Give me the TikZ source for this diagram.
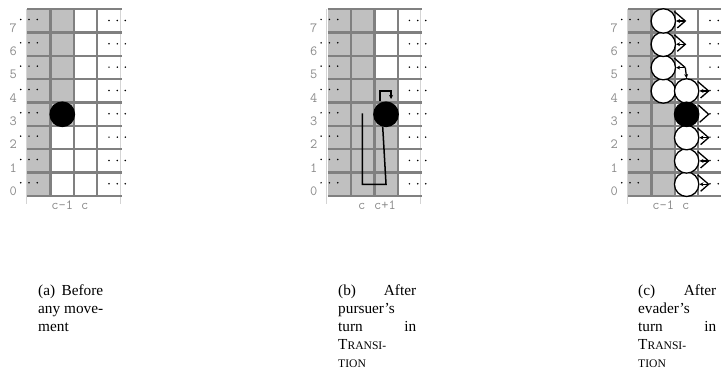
\documentclass[tikz,border=0pt]{standalone}
\usepackage{fontspec}
\setmainfont{Liberation Serif}
\usetikzlibrary{arrows.meta,calc}
\definecolor{cellgray}{HTML}{C0C0C0}
\definecolor{gridgray}{HTML}{808080}
\definecolor{thingray}{HTML}{D4D4D4}
\definecolor{labelgray}{HTML}{8A8A8A}
\newcommand\mysc[1]{{\fontsize{11.6}{18}\selectfont #1}}
\def\S{23.33}
\def\GT{9.3}
\newcommand\gcell[2]{\fill[cellgray] ({#1*\S},{\GT+(7-#2)*\S}) rectangle ({(#1+1)*\S},{\GT+(8-#2)*\S});}
\newcommand\gcol[1]{\fill[cellgray] ({#1*\S},\GT) rectangle ({(#1+1)*\S},{\GT+8*\S});}
\newcommand\gridbase[1]{%
  \draw[thinl] (-1.3,\GT) -- (-1.3,{\GT+8*\S+8});
  \draw[thinl] ({4*\S-0.8},\GT) -- ({4*\S-0.8},{\GT+8*\S+8});
  \foreach \k in {0,...,8} {\draw[gridl] (0,{\GT+\k*\S}) -- ({4*\S+1},{\GT+\k*\S});}
  \foreach \k in {1,2,3} {\draw[gridl] ({\k*\S},\GT) -- ({\k*\S},{\GT+8*\S});}
  \foreach \r in {0,...,7}{%
    \node[rowlab] (#1-row\r) at (-14,{\GT+(8-\r)*\S-0.5}) {\r};
    \foreach \dx in {-6.6,1.7,10}{\fill ({\dx},{\GT+(7.5-\r)*\S-1.5}) circle (0.85);}
    \foreach \dx in {81.7,90,98}{\fill ({\dx},{\GT+(7.5-\r)*\S-0.5}) circle (0.85);}
  }%
}
% zigzag helper: #1 node name
\newcommand\zig[1]{%
  \coordinate (#1-u) at ($(#1)+(11,-9.5)$);
  \coordinate (#1-v) at ($(#1)+(22,0)$);
  \coordinate (#1-w) at ($(#1)+(14,7)$);
  \draw[zz] (#1-u) -- (#1-v) -- (#1-w);
  \draw[zz,arrowed] (#1-v) -- (#1.east);
}
\begin{document}
\begin{tikzpicture}[x=1pt,y=-1pt,
  thinl/.style={draw=thingray,line width=0.6pt},
  gridl/.style={draw=gridgray,line width=2.3pt},
  rowlab/.style={anchor=base,inner sep=0pt,text=labelgray,font=\ttfamily\fontsize{14}{14}\selectfont},
  collab/.style={anchor=base,inner sep=0pt,text=labelgray,font=\ttfamily\fontsize{14}{14}\selectfont},
  blackdisc/.style={circle,draw=black,fill=black,line width=1.3pt,minimum size=24.4pt,inner sep=0pt},
  whitedisc/.style={circle,draw=black,fill=white,line width=1.3pt,minimum size=24.4pt,inner sep=0pt},
  trail/.style={draw=black,line width=1.5pt,line join=miter},
  zz/.style={draw=black,line width=1.3pt},
  arrowed/.style={-{Stealth[length=4pt,width=4pt]}},
  captext/.style={anchor=north west,inner sep=0pt,align=left,font=\fontsize{15.3}{18}\selectfont}]
\useasboundingbox (0,0) rectangle (721,376);

% ---------- panel (a)
\begin{scope}[xshift=27.3pt]
  \gcol{0}
  \foreach \r in {3,...,7}{\gcell{1}{\r}}
  \gridbase{a}
  \node[blackdisc] (a-e) at ({1.5*\S},{\GT+4.5*\S}) {};
  \node[collab] (a-c1) at ({1.5*\S},{\GT+8*\S+14}) {c-1};
  \node[collab] (a-c2) at ({2.5*\S-1},{\GT+8*\S+14}) {c};
\end{scope}

% ---------- panel (b)
\begin{scope}[xshift=327.7pt]
  \gcol{0}
  \gcol{1}
  \foreach \r in {0,...,4}{\gcell{2}{\r}}
  \gridbase{b}
  \node[blackdisc] (b-e) at ({2.5*\S},{\GT+4.5*\S}) {};
  \coordinate (b-s) at ({1.5*\S-0.3},{\GT+4.5*\S-1});
  \coordinate (b-bl) at ({1.5*\S-0.3},{\GT+7.5*\S});
  \coordinate (b-br) at ({2.5*\S},{\GT+7.5*\S});
  \draw[trail] (b-s) -- (b-bl) -- (b-br) -- (b-e.-105);
  \coordinate (b-lt) at ({2.5*\S-6},{\GT+3.5*\S});
  \coordinate (b-rt) at ({2.5*\S+5},{\GT+3.5*\S});
  \coordinate (b-le) at ({2.5*\S+5},{\GT+3.5*\S+8});
  \draw[trail,arrowed] (b-e.north -| b-lt) -- (b-lt) -- (b-rt) -- (b-le);
  \node[collab] (b-c1) at ({1.5*\S-1},{\GT+8*\S+14}) {c};
  \node[collab] (b-c2) at ({2.5*\S-1},{\GT+8*\S+14}) {c+1};
\end{scope}

% ---------- panel (c)
\begin{scope}[xshift=628.3pt]
  \gcol{0}
  \gcol{1}
  \gridbase{c}
  \foreach \r in {4,...,7}{\node[whitedisc] (c-l\r) at ({1.5*\S},{\GT+(7.5-\r)*\S}) {};}
  \foreach \r in {0,1,2,4}{\node[whitedisc] (c-m\r) at ({2.5*\S},{\GT+(7.5-\r)*\S}) {};}
  \node[blackdisc] (c-e) at ({2.5*\S},{\GT+4.5*\S}) {};
  \zig{c-l7}
  \zig{c-l6}
  \zig{c-m4}
  \zig{c-m2}
  \zig{c-m1}
  \zig{c-m0}
  % row 5 of column c-1
  \coordinate (c-l5-u) at ($(c-l5)+(11,-9.5)$);
  \coordinate (c-l5-v) at ($(c-l5)+(22,0)$);
  \draw[zz] (c-l5-u) -- (c-l5-v);
  \draw[zz,arrowed] (c-l5-v) -- (c-l5.east);
  \draw[zz,arrowed] (c-l5-v) -- (c-m4.north);
  % evader
  \coordinate (c-e-u) at ($(c-e)+(12,-9)$);
  \coordinate (c-e-v) at ($(c-e)+(22,0)$);
  \coordinate (c-e-w) at ($(c-e)+(13,8)$);
  \draw[zz] (c-e-u) -- (c-e-v) -- (c-e-w);
  \node[collab] (c-c1) at ({1.5*\S},{\GT+8*\S+14}) {c-1};
  \node[collab] (c-c2) at ({2.5*\S-1},{\GT+8*\S+14}) {c};
\end{scope}

% ---------- captions
\node[captext,text width=65pt] (capa) at (38,284.5)
  {(a)\hfill Before\\ any\hfill move-\\ ment};
\node[captext,text width=78pt] (capb) at (338,284.5)
  {(b)\hfill After\\ pursuer’s\\ turn\hfill in\\ T\mysc{RANSI-}\\ \mysc{TION}};
\node[captext,text width=78pt] (capc) at (638,284.5)
  {(c)\hfill After\\ evader’s\\ turn\hfill in\\ T\mysc{RANSI-}\\ \mysc{TION}};
\end{tikzpicture}
\end{document}
